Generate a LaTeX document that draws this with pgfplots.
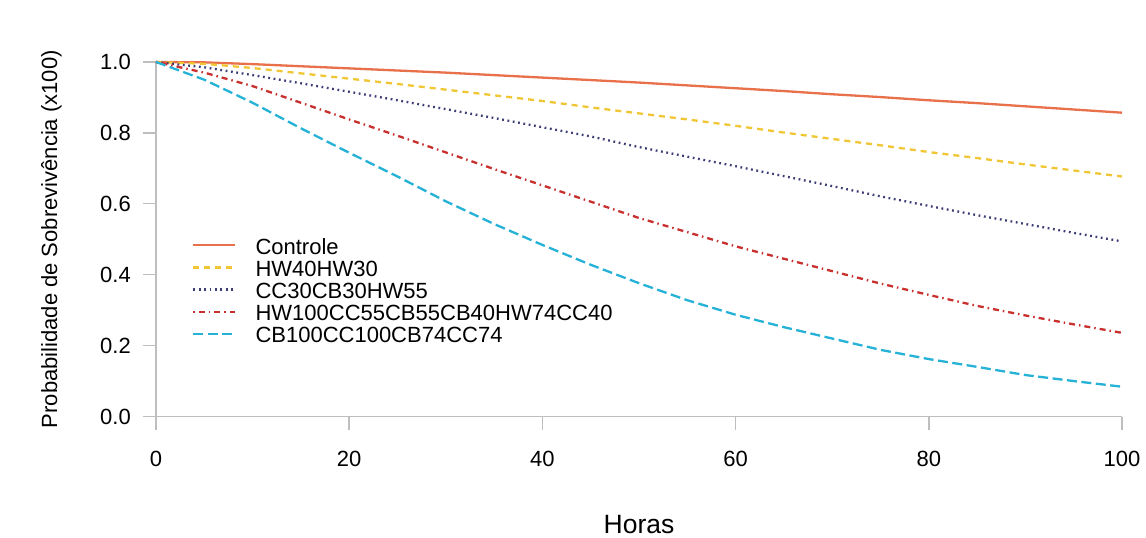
\documentclass[border=0pt]{standalone}
\usepackage{pgfplots}
\pgfplotsset{compat=1.18}
\usepackage{pgfplotstable}
\usepackage{fontspec}
\setmainfont{Liberation Sans}

\definecolor{cCtrl}{RGB}{232,112,74}
\definecolor{cHW}{RGB}{240,198,52}
\definecolor{cCC}{RGB}{62,62,118}
\definecolor{cMix}{RGB}{200,48,46}
\definecolor{cCB}{RGB}{38,178,214}
\definecolor{axgray}{RGB}{190,190,190}

% survival curves, one column per group
\pgfplotstableread{
x   ctrl  hw    cc    mix   cb
0   1.000 1.000 1.000 1.000 1.000
5   0.999 0.995 0.985 0.970 0.950
10  0.994 0.983 0.963 0.932 0.885
15  0.988 0.968 0.940 0.885 0.813
20  0.982 0.953 0.916 0.838 0.744
25  0.976 0.938 0.892 0.792 0.677
30  0.970 0.922 0.867 0.745 0.607
35  0.963 0.906 0.842 0.698 0.543
40  0.956 0.890 0.816 0.652 0.484
45  0.949 0.872 0.790 0.606 0.428
50  0.942 0.855 0.760 0.560 0.376
55  0.934 0.838 0.733 0.520 0.328
60  0.926 0.820 0.706 0.480 0.287
65  0.918 0.801 0.678 0.445 0.252
70  0.909 0.783 0.650 0.410 0.220
75  0.901 0.765 0.621 0.375 0.188
80  0.892 0.746 0.594 0.343 0.162
85  0.884 0.729 0.568 0.312 0.140
90  0.875 0.711 0.543 0.285 0.117
95  0.866 0.694 0.518 0.260 0.100
100 0.857 0.677 0.494 0.236 0.084
}\surv

\begin{document}
\begin{tikzpicture}
\path[use as bounding box] (-156pt,-121.5pt) rectangle (990pt,416.5pt);
\begin{axis}[
  scale only axis,
  width=966pt, height=354.5pt,
  xmin=0, xmax=100, ymin=0, ymax=1,
  axis lines=left,
  axis line style={axgray, line width=1.4pt, -},
  tick style={axgray, line width=1.4pt},
  tick align=outside,
  major tick length=13pt,
  xtick={0,20,40,60,80,100},
  ytick={0,0.2,0.4,0.6,0.8,1},
  /pgf/number format/assume math mode=true,
  yticklabel style={/pgf/number format/fixed, /pgf/number format/fixed zerofill, /pgf/number format/precision=1},
  ticklabel style={font=\fontsize{22}{22}\selectfont, inner sep=0pt},
  xticklabel style={anchor=north, yshift=-21pt},
  yticklabel style={anchor=east, xshift=-12pt},
  xlabel={Horas},
  ylabel={Probabilidade de Sobrevivência (x100)},
  xlabel style={at={(axis description cs:0.5,-0.306)}, anchor=center, inner sep=0pt, font=\fontsize{26.5}{26.5}\selectfont},
  ylabel style={at={(axis description cs:-0.0973,0.5)}, anchor=south, inner sep=0pt, font=\fontsize{22}{22}\selectfont},
  clip=false,
  legend image code/.code={\draw[#1] (0pt,2pt) -- (42pt,2pt); \path (61pt,2pt);},
  legend style={at={(axis description cs:0.0373,0.5035)}, anchor=north west,
    draw=none, fill=none, inner sep=0pt, row sep=5.3pt,
    font=\fontsize{22}{22}\selectfont,
    nodes={inner sep=0pt}},
  legend cell align=left,
  every axis plot/.append style={line width=2.3pt},
]
\addplot[cCtrl, solid] table[x=x, y=ctrl] {\surv};
\addlegendentry{Controle}
\addplot[cHW, dash pattern=on 6pt off 5pt] table[x=x, y=hw] {\surv};
\addlegendentry{HW40HW30}
\addplot[cCC, dash pattern=on 1.8pt off 3.6pt] table[x=x, y=cc] {\surv};
\addlegendentry{CC30CB30HW55}
\addplot[cMix, dash pattern=on 1.5pt off 4pt on 6pt off 4pt] table[x=x, y=mix] {\surv};
\addlegendentry{HW100CC55CB55CB40HW74CC40}
\addplot[cCB, dash pattern=on 10pt off 4.5pt] table[x=x, y=cb] {\surv};
\addlegendentry{CB100CC100CB74CC74}
\end{axis}
\end{tikzpicture}
\end{document}
